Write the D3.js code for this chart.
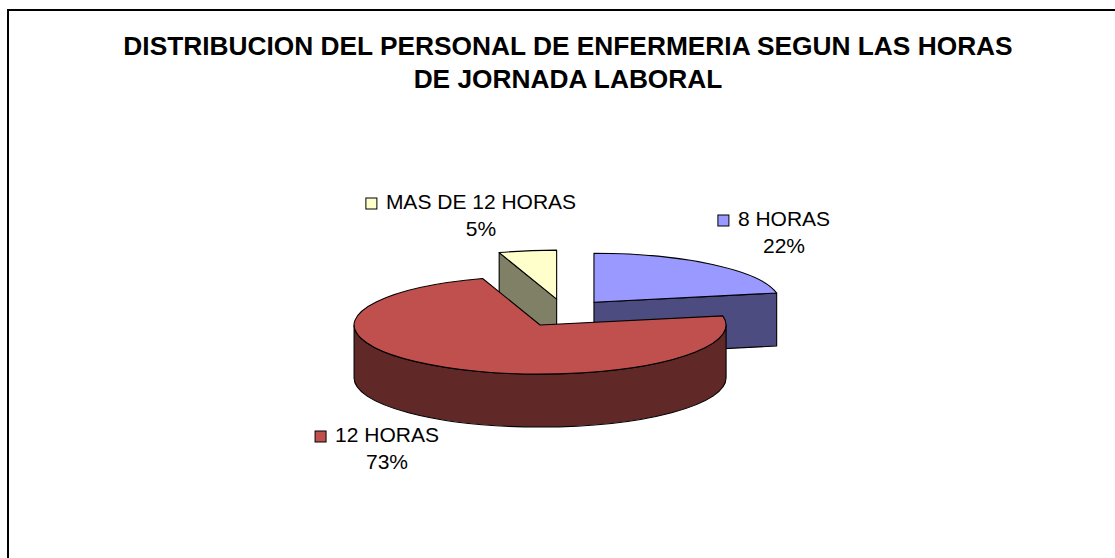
<!DOCTYPE html>
<html><head><meta charset="utf-8">
<script src="https://cdn.jsdelivr.net/npm/d3@7"></script>
<style>body{margin:0;background:#fff}svg{display:block}</style>
</head><body>
<svg id="chart" width="1115" height="558"></svg>
<script>
// ---- data ----
const titleLines = ["DISTRIBUCION DEL PERSONAL DE ENFERMERIA SEGUN LAS HORAS", "DE JORNADA LABORAL"];
const categories = ["8 HORAS", "12 HORAS", "MAS DE 12 HORAS"];
const values = [22, 73, 5];
const percentLabels = ["22%", "73%", "5%"];

// ---- styles / layout ----
const topColors = ["#9999FF", "#C0504D", "#FFFFCC"];
const sideColors = ["#4C4C80", "#602826", "#808066"];
const FONT = "'Liberation Sans', Arial, sans-serif";
const cx = 564, cy = 313, rx = 186, ry = 49, depth = 53;
const explodeX = 47, explodeY = 14;
const labelAnchors = [[784, 226], [387, 442], [481, 209]]; // text-center x, first baseline
const lineGap = 27;

const svg = d3.select("#chart");

// frame
svg.append("rect").attr("x", 8).attr("y", 10).attr("width", 1200).attr("height", 700)
  .attr("fill", "none").attr("stroke", "#000").attr("stroke-width", 2);

// title
svg.append("g").selectAll("text").data(titleLines).join("text")
  .attr("x", 568).attr("y", (d, i) => 55 + i * 33)
  .attr("text-anchor", "middle")
  .attr("font-family", FONT).attr("font-weight", "bold").attr("font-size", 26.3)
  .attr("letter-spacing", 0)
  .text(d => d);

// pie
const pie = d3.pie().sort(null).startAngle(0).endAngle(2 * Math.PI);
const arcs = pie(values).map((a, i) => {
  const mid = (a.startAngle + a.endAngle) / 2;
  const c = [cx + explodeX * Math.sin(mid), cy - explodeY * Math.cos(mid)];
  return {...a, i, mid, c};
});

function pt(c, a) { return [c[0] + rx * Math.sin(a), c[1] - ry * Math.cos(a)]; }
function topPath(c, a0, a1) {
  const p0 = pt(c, a0), p1 = pt(c, a1);
  const large = (a1 - a0) > Math.PI ? 1 : 0;
  return `M${c[0]},${c[1]}L${p0[0]},${p0[1]}A${rx},${ry} 0 ${large} 1 ${p1[0]},${p1[1]}Z`;
}
function wallPath(c, a0, a1) {
  const s = Math.max(a0, Math.PI / 2), e = Math.min(a1, 3 * Math.PI / 2);
  if (e <= s) return null;
  const p0 = pt(c, s), p1 = pt(c, e);
  const large = (e - s) > Math.PI ? 1 : 0;
  return `M${p0[0]},${p0[1]}A${rx},${ry} 0 ${large} 1 ${p1[0]},${p1[1]}` +
    `L${p1[0]},${p1[1] + depth}A${rx},${ry} 0 ${large} 0 ${p0[0]},${p0[1] + depth}Z`;
}
function radialPath(c, a) {
  const p = pt(c, a);
  return `M${c[0]},${c[1]}L${p[0]},${p[1]}L${p[0]},${p[1] + depth}L${c[0]},${c[1] + depth}Z`;
}

const g = svg.append("g").attr("stroke", "#000").attr("stroke-width", 1.1).attr("stroke-linejoin", "round");
const order = arcs.slice().sort((a, b) => a.c[1] - b.c[1]);
order.forEach(a => {
  const faces = [];
  if (Math.sin(a.startAngle) < -1e-6) faces.push(radialPath(a.c, a.startAngle));
  if (Math.sin(a.endAngle) > 1e-6) faces.push(radialPath(a.c, a.endAngle));
  const w = wallPath(a.c, a.startAngle, a.endAngle);
  if (w) faces.push(w);
  faces.forEach(f => g.append("path").attr("d", f).attr("fill", sideColors[a.i]));
  g.append("path").attr("d", topPath(a.c, a.startAngle, a.endAngle)).attr("fill", topColors[a.i]);
});

// labels
const lg = svg.append("g").attr("font-family", FONT).attr("font-size", 21);
arcs.forEach(a => {
  const [x, y] = labelAnchors[a.i];
  const t = lg.append("text").attr("x", x).attr("y", y).attr("text-anchor", "middle").text(categories[a.i]);
  const w = t.node().getComputedTextLength();
  lg.append("rect").attr("x", x - w / 2 - 20).attr("y", y - 11).attr("width", 11).attr("height", 11)
    .attr("fill", topColors[a.i]).attr("stroke", "#000").attr("stroke-width", 1);
  lg.append("text").attr("x", x).attr("y", y + lineGap).attr("text-anchor", "middle").text(percentLabels[a.i]);
});
</script>
</body></html>
